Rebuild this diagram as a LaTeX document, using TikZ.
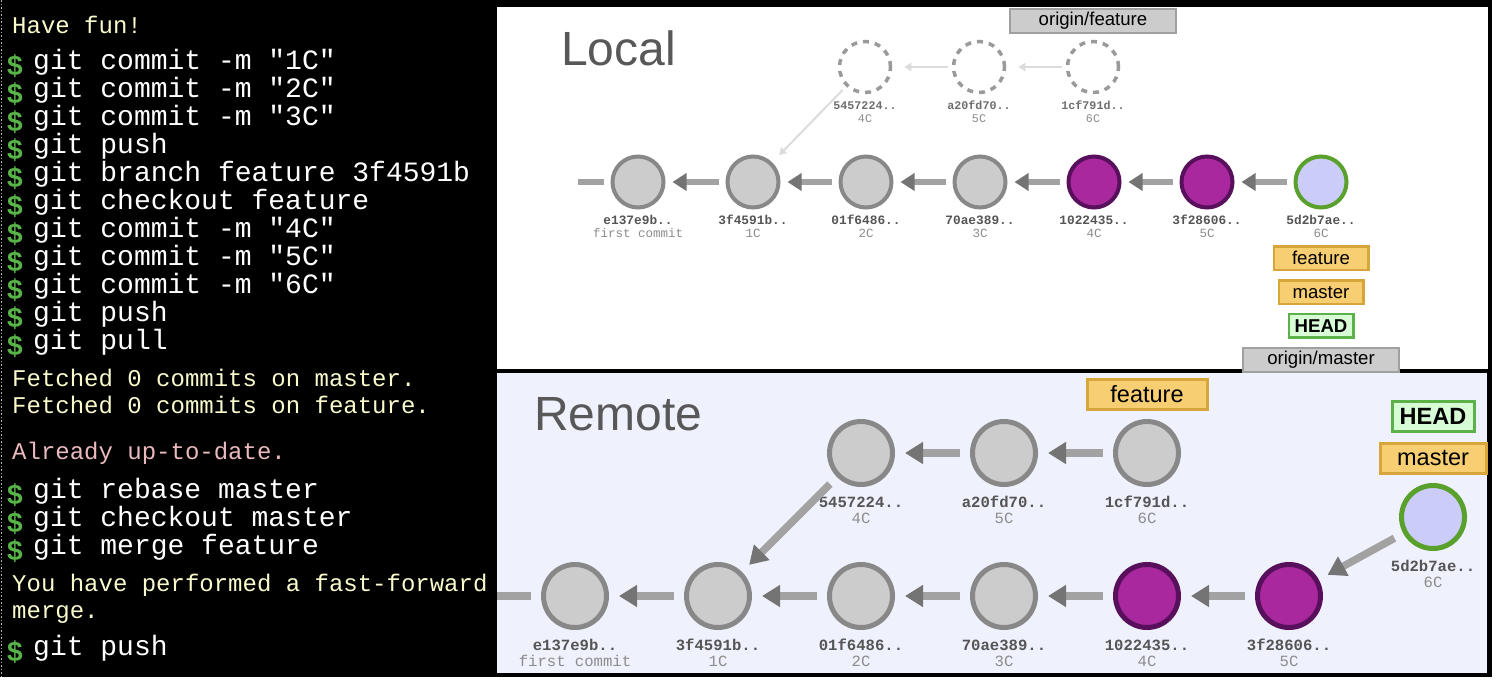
\documentclass[tikz,border=0pt]{standalone}
\usepackage{fontspec}
\setmainfont{Liberation Sans}
\setmonofont{Liberation Mono}
\usetikzlibrary{positioning,arrows.meta}

\definecolor{termyellow}{RGB}{250,250,204}
\definecolor{termpink}{RGB}{234,186,190}
\definecolor{termgreen}{RGB}{88,180,72}
\definecolor{remotebg}{RGB}{239,241,253}
\definecolor{nodegray}{RGB}{204,204,204}
\definecolor{linegray}{RGB}{136,136,136}
\definecolor{arrowgray}{RGB}{162,162,162}
\definecolor{headgray}{RGB}{116,116,116}
\definecolor{ghostgray}{RGB}{220,220,220}
\definecolor{purplefill}{RGB}{170,40,157}
\definecolor{purpleline}{RGB}{88,16,92}
\definecolor{tipfill}{RGB}{204,204,248}
\definecolor{tipline}{RGB}{90,160,45}
\definecolor{branchfill}{RGB}{248,206,114}
\definecolor{branchline}{RGB}{214,166,58}
\definecolor{headtagfill}{RGB}{216,252,214}
\definecolor{headtagline}{RGB}{92,178,72}
\definecolor{titlegray}{RGB}{88,88,88}
\definecolor{hashgray}{RGB}{85,85,85}
\definecolor{msggray}{RGB}{140,140,140}

\begin{document}
\begin{tikzpicture}[x=1pt, y=-1pt,
  plain/.style = {},
  commit/.style = {draw=linegray, fill=nodegray, circle, line width=4pt, minimum size=51pt, inner sep=0pt},
  rcommit/.style = {commit, line width=5pt, minimum size=63pt},
  feat/.style = {draw=purpleline, fill=purplefill},
  tip/.style = {draw=tipline, fill=tipfill},
  ghost/.style = {draw=linegray!85, circle, line width=3.5pt, dash pattern=on 6pt off 6pt, minimum size=51pt, inner sep=0pt},
  hash/.style = {font=\ttfamily\bfseries\fontsize{12.8}{14}\selectfont, text=hashgray, inner sep=0pt, anchor=base},
  msg/.style = {font=\ttfamily\fontsize{12.5}{14}\selectfont, text=msggray, inner sep=0pt, anchor=base},
  rhash/.style = {hash, font=\ttfamily\bfseries\fontsize{15.6}{17}\selectfont},
  rmsg/.style = {msg, font=\ttfamily\fontsize{15.6}{17}\selectfont},
  larrow/.style = {arrowgray, line width=6pt, -{Triangle[length=14pt, width=17pt, color=headgray]}, shorten <=7pt, shorten >=7pt},
  rarrow/.style = {arrowgray, line width=7.5pt, -{Triangle[length=18pt, width=21pt, color=headgray]}, shorten <=10pt, shorten >=10pt},
  garrow/.style = {ghostgray, line width=2pt, -{Triangle[length=7pt, width=8pt]}},
  tag/.style = {draw=branchline, fill=branchfill, line width=2.5pt, inner sep=0pt, minimum height=23.5pt, font=\fontsize{18.6}{20}\selectfont},
  headtag/.style = {tag, draw=headtagline, fill=headtagfill, font=\bfseries\fontsize{18.6}{20}\selectfont},
  origintag/.style = {tag, draw=linegray!80, fill=nodegray, line width=2pt, minimum height=24pt},
  rtag/.style = {tag, line width=3pt, minimum height=30pt, font=\fontsize{23.5}{25}\selectfont},
  rheadtag/.style = {rtag, draw=headtagline, fill=headtagfill, font=\bfseries\fontsize{23.5}{25}\selectfont},
  title/.style = {font=\fontsize{48}{50}\selectfont, text=titlegray, inner sep=0pt, anchor=base west},
  dollar/.style = {font=\bfseries\fontsize{28}{30}\selectfont, text=termgreen, inner sep=0pt, anchor=base west},
  cmdtxt/.style = {font=\ttfamily\fontsize{28}{30}\selectfont, text=white, inner sep=0pt, anchor=base west},
  outtxt/.style = {font=\ttfamily\fontsize{24}{26}\selectfont, text=termyellow, inner sep=0pt, anchor=base west}]
\useasboundingbox (0,0) rectangle (1496,680);

% panels
\fill[black] (0,0) rectangle (1492,677);
\draw[gray!60, dotted, line width=1.5pt] (1.5,0) -- (1.5,677);
\fill[white] (497,7) rectangle (1488,369);
\fill[remotebg] (497,373) rectangle (1487,673);

% terminal
\node[outtxt] (fun) at (12,33) {Have fun!};
\foreach \c [count=\k] in {git commit -m "1C", git commit -m "2C", git commit -m "3C", git push, git branch feature 3f4591b, git checkout feature, git commit -m "4C", git commit -m "5C", git commit -m "6C", git push, git pull}{
  \node[dollar] (dol\k) at (7,47+28*\k) {\$};
  \node[cmdtxt] (cmd\k) at (33,41+28*\k) {\c};
}
\node[outtxt] (fetch1) at (12,386) {Fetched 0 commits on master.};
\node[outtxt] (fetch2) at (12,413) {Fetched 0 commits on feature.};
\node[outtxt, text=termpink] (uptodate) at (12,459) {Already up-to-date.};
\foreach \c/\y [count=\k from 12] in {git rebase master/498, git checkout master/526, git merge feature/554, git push/655}{
  \node[dollar] (dol\k) at (7,\y+6) {\$};
  \node[cmdtxt] (cmd\k) at (33,\y) {\c};
}
\node[outtxt] (ff1) at (12,591) {You have performed a fast-forward};
\node[outtxt] (ff2) at (12,618) {merge.};

% local
\node[title] (local) at (561,65) {Local};
\foreach \n/\x/\h/\m/\s in {l1/638/e137e9b../first commit/plain, l2/753/3f4591b../1C/plain, l3/866/01f6486../2C/plain, l4/980/70ae389../3C/plain, l5/1094/1022435../4C/feat, l6/1207/3f28606../5C/feat, l7/1321/5d2b7ae../6C/tip}{
  \node[commit, \s] (\n) at (\x,182) {};
  \node[hash] (\n-id) at (\x,224) {\h};
  \node[msg] (\n-msg) at (\x,237) {\m};
}
\foreach \n/\x/\h/\m in {g1/865/5457224../4C, g2/979/a20fd70../5C, g3/1093/1cf791d../6C}{
  \node[ghost] (\n) at (\x,67) {};
  \node[hash, text=hashgray!85, font=\ttfamily\bfseries\fontsize{11.7}{13}\selectfont] (\n-id) at (\x,109) {\h};
  \node[msg, font=\ttfamily\fontsize{11.7}{13}\selectfont] (\n-msg) at (\x,122) {\m};
}
\coordinate (lstub) at (578,182);
\draw[arrowgray, line width=6pt, shorten >=6.5pt] (lstub) -- (l1);
\foreach \a/\b in {l2/l1, l3/l2, l4/l3, l5/l4, l6/l5, l7/l6}
  \draw[larrow] (\a) -- (\b);
\draw[garrow, shorten <=4pt, shorten >=12pt] (g2) -- (g1);
\draw[garrow, shorten <=4pt, shorten >=12pt] (g3) -- (g2);
\draw[garrow, shorten <=5pt, shorten >=10pt] (g1) -- (l2);

\node[origintag, minimum width=166pt, above=6pt of g3] (ofeature) {origin/feature};
\node[tag, minimum width=94.5pt, below=8pt of l7-msg] (lfeature) {feature};
\node[tag, minimum width=84.5pt, below=8pt of lfeature] (lmaster) {master};
\node[headtag, minimum width=64.5pt, below=7.5pt of lmaster] (lhead) {HEAD};
\node[origintag, minimum width=156pt, below=8pt of lhead] (omaster) {origin/master};

% remote
\node[title] (remote) at (534,430) {Remote};
\foreach \n/\x/\y/\h/\m/\s in {r1/575/596/e137e9b../first commit/plain, r2/718/596/3f4591b../1C/plain, r3/861/596/01f6486../2C/plain, r4/1004/596/70ae389../3C/plain, r5/1147/596/1022435../4C/feat, r6/1289/596/3f28606../5C/feat, r7/861/453/5457224../4C/plain, r8/1004/453/a20fd70../5C/plain, r9/1147/453/1cf791d../6C/plain, r10/1433/517/5d2b7ae../6C/tip}{
  \node[rcommit, \s] (\n) at (\x,\y) {};
  \node[rhash] (\n-id) at (\x,\y+54) {\h};
  \node[rmsg] (\n-msg) at (\x,\y+70) {\m};
}
\coordinate (rstub) at (497,596);
\draw[arrowgray, line width=7.5pt, shorten >=10pt] (rstub) -- (r1);
\foreach \a/\b in {r2/r1, r3/r2, r4/r3, r5/r4, r6/r5, r8/r7, r9/r8, r7/r2, r10/r6}
  \draw[rarrow] (\a) -- (\b);

\node[rtag, minimum width=120pt, above=8pt of r9] (rfeature) {feature};
\node[rtag, minimum width=106pt, above=8pt of r10] (rmaster) {master};
\node[rheadtag, minimum width=82pt, above=9pt of rmaster] (rhead) {HEAD};
\end{tikzpicture}
\end{document}
